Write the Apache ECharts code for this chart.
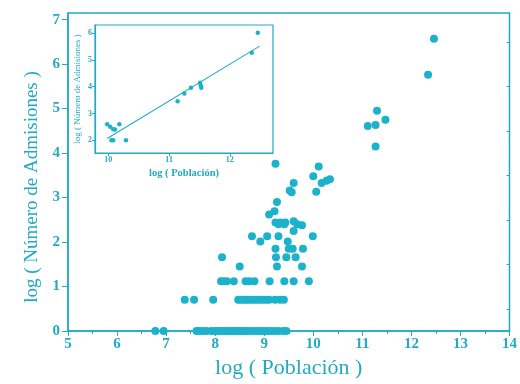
<!DOCTYPE html>
<html>
<head>
<meta charset="utf-8">
<script src="https://cdn.jsdelivr.net/npm/echarts@6/dist/echarts.min.js"></script>
<style>html,body{margin:0;padding:0;background:#fff}#c{width:520px;height:384px}</style>
</head>
<body>
<div id="c"></div>
<script>
// Main scatter: log(Población) vs log(Número de Admisiones)
const mainLogPob = [
  6.78, 6.95, 7.62, 7.68, 7.75, 7.82, 7.92, 8.00, 8.06, 8.12, 8.18, 8.25, 8.30, 8.36, 8.42, 8.48, 8.53, 8.58, 8.64, 8.70, 8.78, 8.85, 8.92, 8.98, 9.05, 9.12, 9.20, 9.28, 9.38, 9.45,
  7.38, 7.57, 7.96, 8.47, 8.52, 8.58, 8.63, 8.68, 8.74, 8.80, 8.86, 8.92, 8.98, 9.04, 9.10, 9.22, 9.32, 9.40,
  8.12, 8.18, 8.24, 8.38, 8.62, 8.70, 8.80, 9.11, 9.41, 9.60, 9.91,
  8.50, 9.26, 9.77,
  8.14, 9.24, 9.45, 9.64,
  9.23, 9.50, 9.58, 9.79,
  8.92, 9.48,
  8.75, 9.06, 9.29, 9.99,
  9.60,
  9.23, 9.29, 9.33, 9.41, 9.43, 9.60, 9.67, 9.77,
  9.10, 9.21, 9.26, 9.52, 9.56, 9.60, 10.06, 10.17, 10.27, 10.34, 10.00, 10.11, 9.23,
  11.11, 11.27, 11.30, 11.47, 11.27, 12.34, 12.46
];
const mainLogAdm = [
  0,0,0,0,0,0,0,0,0,0,0,0,0,0,0,0,0,0,0,0,0,0,0,0,0,0,0,0,0,0,
  0.70,0.70,0.70,0.70,0.70,0.70,0.70,0.70,0.70,0.70,0.70,0.70,0.70,0.70,0.70,0.70,0.70,0.70,
  1.12,1.12,1.12,1.12,1.12,1.12,1.12,1.12,1.12,1.12,1.12,
  1.45,1.45,1.45,
  1.66,1.66,1.66,1.66,
  1.85,1.85,1.85,1.85,
  2.01,2.01,
  2.13,2.13,2.13,2.13,
  2.25,
  2.44,2.40,2.44,2.40,2.44,2.47,2.40,2.38,
  2.62,2.69,2.90,3.16,3.12,3.33,3.13,3.33,3.38,3.41,3.48,3.70,3.76,
  4.61,4.63,4.95,4.75,4.15,5.76,6.57
];
// Inset scatter
const insetLogPob = [12.46, 12.36, 11.51, 11.52, 11.53, 11.36, 11.25, 11.14, 9.98, 10.03, 10.08, 10.11, 10.18, 10.05, 10.08, 10.29];
const insetLogAdm = [6.02, 5.27, 4.15, 4.05, 3.96, 3.96, 3.75, 3.46, 2.60, 2.50, 2.41, 2.40, 2.60, 2.00, 2.00, 2.00];
// Inset fitted line endpoints
const fitLogPob = [9.98, 12.49];
const fitLogAdm = [2.06, 5.52];
// Tick labels
const mainYTicks = [0,1,2,3,4,5,6,7];
const mainYMinor = [0.5,1.5,2.5,3.5,4.5,5.5,6.5];
const insetXTicks = [10,11,12];
const insetYTicks = [2,3,4,5,6];

const C = '#22aac2';
const P = '#1cb2cb';
const F = '"Liberation Serif", "DejaVu Serif", serif';

const chart = echarts.init(document.getElementById('c'), null, {renderer:'canvas'});
chart.setOption({
  animation: false,
  backgroundColor: '#fff',
  grid: [
    {left: 68, right: 6, top: 13, bottom: 51, show: true, borderColor: C, borderWidth: 1.5, backgroundColor: 'transparent', containLabel: false},
    {left: 95, top: 25, width: 178, height: 128, show: true, borderColor: C, borderWidth: 1.2, backgroundColor: '#fff', containLabel: false}
  ],
  xAxis: [
    {gridIndex: 0, type: 'value', min: 5, max: 14, interval: 1,
     axisLine: {lineStyle: {color: C, width: 1.5}},
     axisTick: {inside: false, length: 5, lineStyle: {color: C}},
     minorTick: {show: true, splitNumber: 2, length: 3, lineStyle: {color: C}},
     splitLine: {show: false},
     axisLabel: {color: C, fontFamily: F, fontWeight: 'bold', fontSize: 15, margin: 6, showMinLabel: true, showMaxLabel: true},
     name: 'log ( Población )', nameLocation: 'middle', nameGap: 26,
     nameTextStyle: {color: C, fontFamily: F, fontSize: 22}},
    {gridIndex: 1, type: 'value', min: 9.78, max: 12.71,
     axisLine: {lineStyle: {color: C, width: 1.2}},
     axisTick: {length: 3, lineStyle: {color: C}, customValues: insetXTicks},
     splitLine: {show: false},
     axisLabel: {color: C, fontFamily: F, fontWeight: 'bold', fontSize: 8, margin: 3, customValues: insetXTicks},
     name: 'log ( Población)', nameLocation: 'middle', nameGap: 15,
     nameTextStyle: {color: C, fontFamily: F, fontWeight: 'bold', fontSize: 10.5}},
  ],
  yAxis: [
    {gridIndex: 0, type: 'value', min: 0, max: 7.15,
     axisLine: {lineStyle: {color: C, width: 1.5}},
     axisTick: {length: 6, lineStyle: {color: C}, customValues: mainYTicks},
     splitLine: {show: false},
     axisLabel: {color: C, fontFamily: F, fontWeight: 'bold', fontSize: 15, margin: 8, customValues: mainYTicks},
     name: 'log ( Número de Admisiones )', nameLocation: 'middle', nameGap: 24, nameRotate: 90,
     nameTextStyle: {color: C, fontFamily: F, fontSize: 19, padding: [0, 30, 0, 0]}},
    {gridIndex: 0, type: 'value', min: 0, max: 7.15,
     axisLine: {show: false},
     axisTick: {length: 3, inside: true, lineStyle: {color: C}, customValues: mainYMinor},
     splitLine: {show: false},
     axisLabel: {show: false}},
    {gridIndex: 1, type: 'value', min: 1.52, max: 6.31,
     axisLine: {lineStyle: {color: C, width: 1.2}},
     axisTick: {length: 3, lineStyle: {color: C}, customValues: insetYTicks},
     splitLine: {show: false},
     axisLabel: {color: C, fontFamily: F, fontWeight: 'bold', fontSize: 8, margin: 3, customValues: insetYTicks},
     name: 'log ( Número de Admisiones )', nameLocation: 'middle', nameGap: 13, nameRotate: 90,
     nameTextStyle: {color: C, fontFamily: F, fontSize: 9}}
  ],
  series: [
    {type: 'scatter', xAxisIndex: 0, yAxisIndex: 0, symbolSize: 8,
     itemStyle: {color: P, opacity: 1},
     data: mainLogPob.map((x, i) => [x, mainLogAdm[i]])},
    {type: 'line', xAxisIndex: 1, yAxisIndex: 2, symbol: 'none',
     lineStyle: {color: C, width: 1.1},
     data: fitLogPob.map((x, i) => [x, fitLogAdm[i]])},
    {type: 'scatter', xAxisIndex: 1, yAxisIndex: 2, symbolSize: 4.5,
     itemStyle: {color: P, opacity: 1},
     data: insetLogPob.map((x, i) => [x, insetLogAdm[i]])}
  ]
});
</script>
</body>
</html>
